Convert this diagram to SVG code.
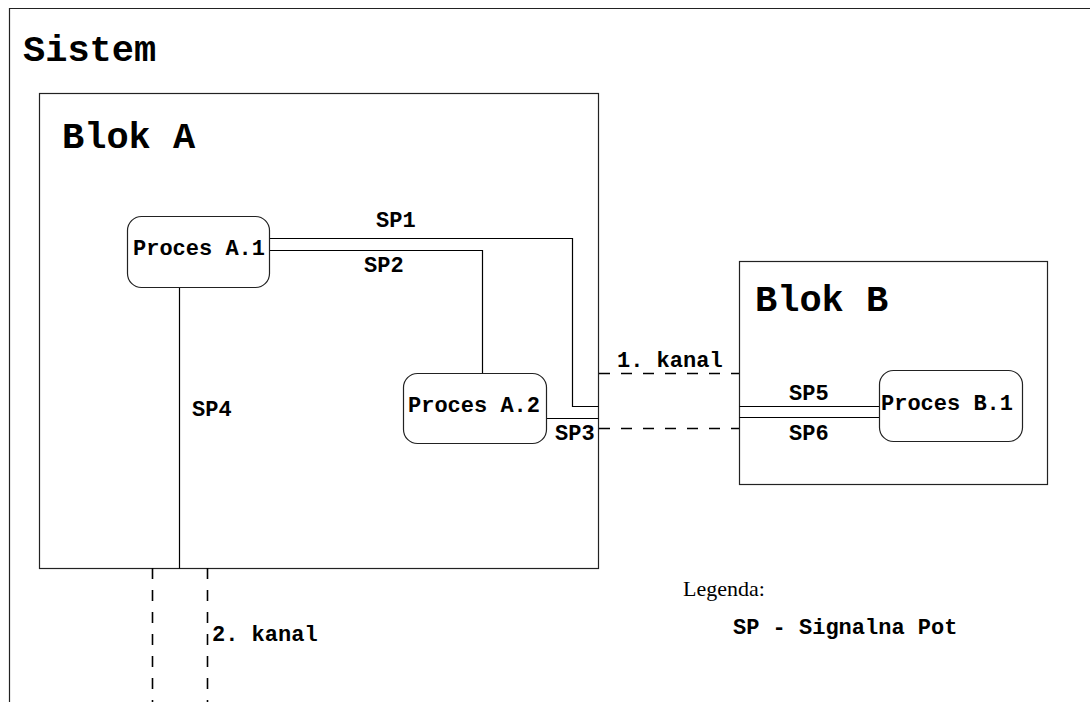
<svg xmlns="http://www.w3.org/2000/svg" width="1090" height="702" viewBox="0 0 1090 702">
  <style>
    .frame { fill: none; stroke: #222; stroke-width: 1.2; }
    .proc { fill: #fff; stroke: #222; stroke-width: 1.2; }
    .path { fill: none; stroke: #000; stroke-width: 1.2; }
    .chan { fill: none; stroke: #000; stroke-width: 1.6; stroke-dasharray: 11 11; }
    .title { font-family: "Liberation Mono", "Courier New", monospace; font-weight: bold; font-size: 37px; fill: #000; }
    .lbl { font-family: "Liberation Mono", "Courier New", monospace; font-weight: bold; font-size: 22px; fill: #000; }
    .serif { font-family: "Liberation Serif", "Times New Roman", serif; font-size: 22px; fill: #000; }
  </style>
  <rect x="0" y="0" width="1090" height="702" fill="#fff"/>

  <!-- system frame -->
  <g id="sistem">
    <path class="frame" d="M9.5,702 V8.5 H1090"/>
    <text class="title" x="23" y="61">Sistem</text>
  </g>

  <g id="blok-a">
    <rect class="frame" x="39.5" y="93.5" width="559" height="475"/>
    <text class="title" x="62" y="148">Blok A</text>
  </g>

  <g id="blok-b">
    <rect class="frame" x="739.5" y="261.5" width="308" height="223"/>
    <text class="title" x="755" y="311">Blok B</text>
  </g>

  <!-- signal paths and channels -->
  <g id="connectors">
    <path class="path" d="M269.5,238.5 H572.5 V406.5 H598.5"/>
    <path class="path" d="M269.5,250.5 H482.5 V373.5"/>
    <path class="path" d="M546.5,418.5 H598.5"/>
    <path class="path" d="M179.5,287.5 V568.5"/>
    <path class="path" d="M739.5,406.5 H879.5"/>
    <path class="path" d="M739.5,417.5 H879.5"/>
    <path class="chan" d="M599,373.5 H739"/>
    <path class="chan" d="M599,428.5 H739"/>
    <path class="chan" d="M152.5,568 V702"/>
    <path class="chan" d="M207.5,568 V702"/>
    <text class="lbl" x="376" y="227">SP1</text>
    <text class="lbl" x="364" y="272">SP2</text>
    <text class="lbl" x="555" y="440">SP3</text>
    <text class="lbl" x="192" y="416">SP4</text>
    <text class="lbl" x="789" y="400">SP5</text>
    <text class="lbl" x="789" y="440">SP6</text>
    <text class="lbl" x="617" y="367">1. kanal</text>
    <text class="lbl" x="212" y="641">2. kanal</text>
  </g>

  <g id="proces-a1">
    <rect class="proc" x="127.5" y="216.5" width="142" height="71" rx="14"/>
    <text class="lbl" x="133" y="255">Proces A.1</text>
  </g>

  <g id="proces-a2">
    <rect class="proc" x="403.5" y="373.5" width="143" height="70" rx="14"/>
    <text class="lbl" x="408" y="412">Proces A.2</text>
  </g>

  <g id="proces-b1">
    <rect class="proc" x="879.5" y="370.5" width="143" height="71" rx="14"/>
    <text class="lbl" x="881" y="410">Proces B.1</text>
  </g>

  <g id="legenda">
    <text class="serif" x="683" y="596">Legenda:</text>
    <text class="lbl" x="733" y="634">SP - Signalna Pot</text>
  </g>
</svg>
